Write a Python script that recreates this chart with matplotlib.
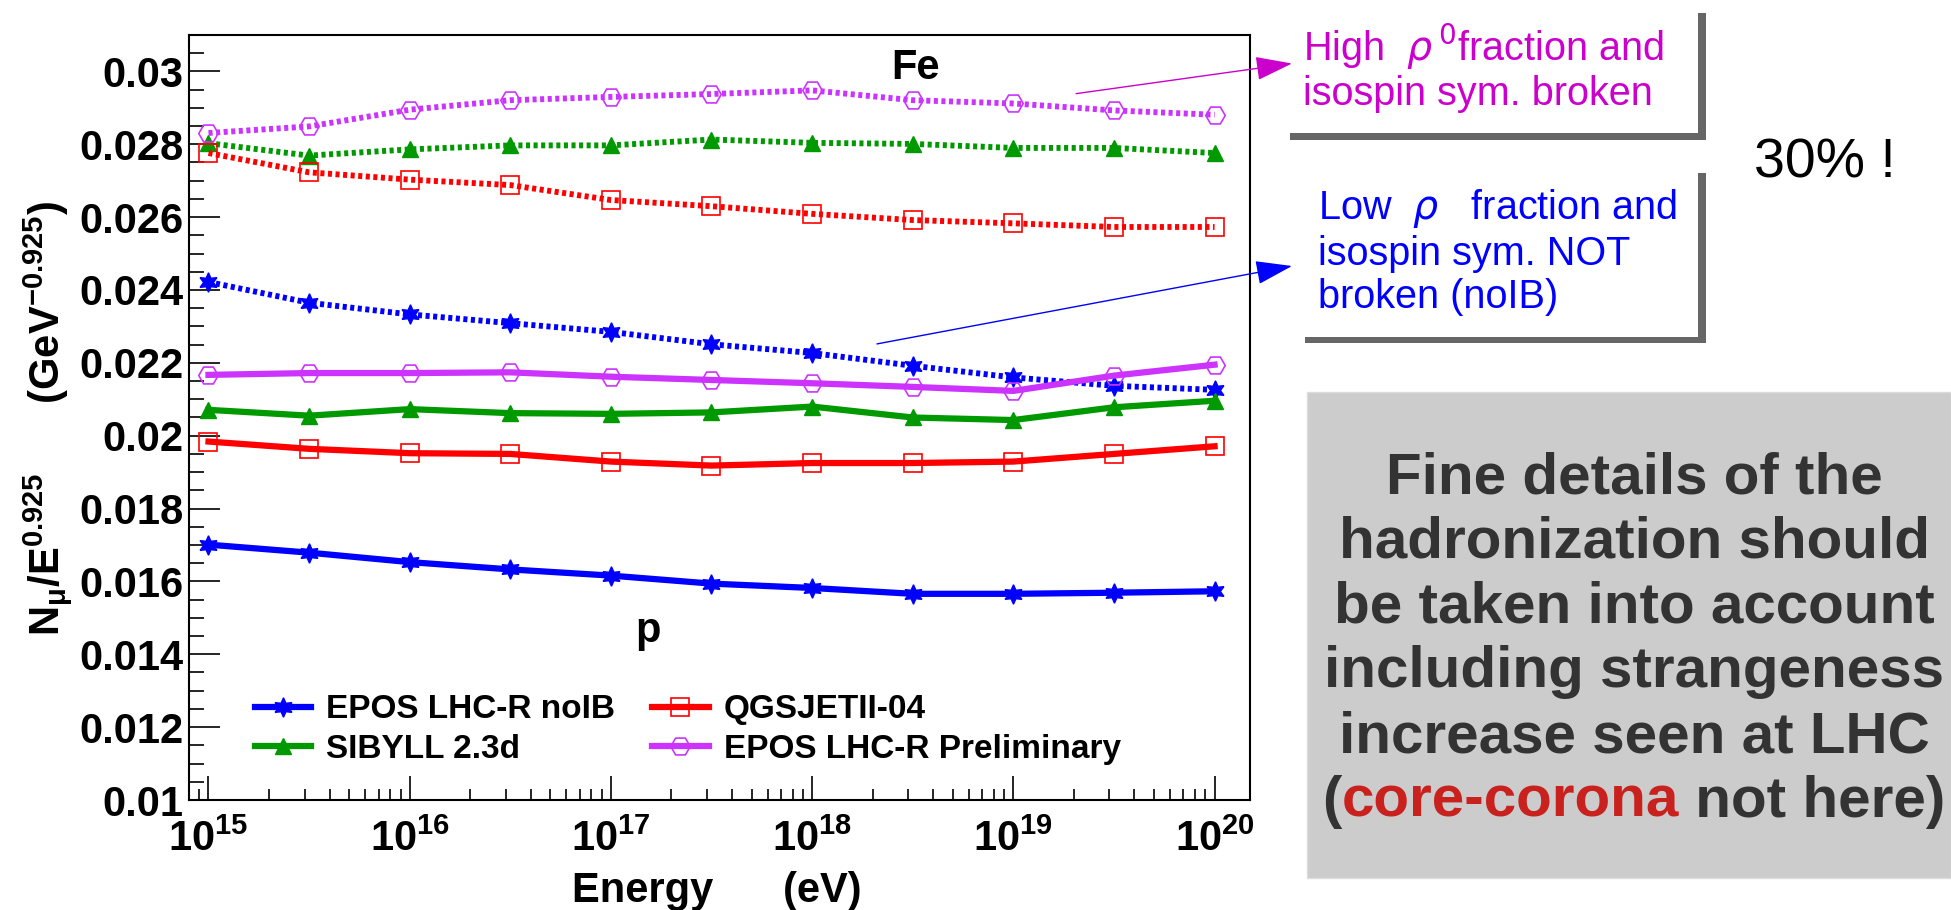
import matplotlib
matplotlib.use('Agg')
import matplotlib.pyplot as plt
from matplotlib.patches import Rectangle
from matplotlib.ticker import LogLocator, MultipleLocator, FuncFormatter, NullFormatter

plt.rcParams['font.family'] = ['Liberation Sans', 'DejaVu Sans']
plt.rcParams['mathtext.fontset'] = 'custom'
plt.rcParams['mathtext.rm'] = 'Liberation Sans:bold'
plt.rcParams['mathtext.it'] = 'Liberation Sans:bold:italic'
plt.rcParams['mathtext.bf'] = 'Liberation Sans:bold'
plt.rcParams['mathtext.default'] = 'rm'

# shower energies (eV), half-decade steps
energy = [1e15, 3.16e15, 1e16, 3.16e16, 1e17, 3.16e17, 1e18, 3.16e18, 1e19, 3.16e19, 1e20]

# proton showers (solid)
p_epos_noib = [0.01701, 0.01679, 0.01653, 0.01633, 0.01616, 0.01594, 0.01582, 0.01566, 0.01566, 0.01569, 0.01573]
p_qgsjet = [0.01984, 0.01964, 0.01952, 0.01950, 0.01929, 0.01918, 0.01925, 0.01925, 0.01929, 0.01950, 0.01971]
p_sibyll = [0.02071, 0.02055, 0.02073, 0.02062, 0.02060, 0.02064, 0.02080, 0.02050, 0.02043, 0.02078, 0.02096]
p_epos = [0.02167, 0.02172, 0.02172, 0.02174, 0.02162, 0.02153, 0.02144, 0.02134, 0.02123, 0.02165, 0.02195]

# iron showers (dotted)
fe_epos_noib = [0.02422, 0.02365, 0.02333, 0.02309, 0.02285, 0.02251, 0.02227, 0.02192, 0.02160, 0.02137, 0.02126]
fe_qgsjet = [0.02776, 0.02723, 0.02703, 0.02688, 0.02647, 0.02630, 0.02609, 0.02592, 0.02583, 0.02573, 0.02573]
fe_sibyll = [0.02803, 0.02769, 0.02786, 0.02797, 0.02797, 0.02813, 0.02804, 0.02801, 0.02790, 0.02790, 0.02776]
fe_epos = [0.02831, 0.02849, 0.02895, 0.02921, 0.02930, 0.02938, 0.02948, 0.02921, 0.02912, 0.02893, 0.02881]

labels = ['EPOS LHC-R noIB', 'SIBYLL 2.3d', 'QGSJETII-04', 'EPOS LHC-R Preliminary']

BLUE = '#0000ff'
GREEN = '#009900'
RED = '#ff0000'
PURPLE = '#cc33ff'

W, H = 1951, 910


def fx(x):
    return x / W


def fy(y):
    return 1 - y / H


fig = plt.figure(figsize=(W / 100, H / 100), dpi=100)
ax = fig.add_axes([fx(189), fy(800), (1250 - 189) / W, (800 - 35) / H])

styles = [
    (p_epos_noib, fe_epos_noib, BLUE, dict(marker=(6, 1, 0), ms=14, mfc=BLUE, mec=BLUE)),
    (p_sibyll, fe_sibyll, GREEN, dict(marker='^', ms=11, mfc=GREEN, mec=GREEN)),
    (p_qgsjet, fe_qgsjet, RED, dict(marker='s', ms=13, mfc='none', mec=RED, mew=1.2)),
    (p_epos, fe_epos, PURPLE, dict(marker='H', ms=14, mfc='none', mec=PURPLE, mew=1.2)),
]

handles = []
for (p_vals, fe_vals, col, mk), lab in zip(styles, labels):
    ax.plot(energy, fe_vals, color=col, lw=4.2, linestyle=(0, (0.7, 0.6)),
            dash_capstyle='butt', **mk)
    h, = ax.plot(energy, p_vals, color=col, lw=4.5, label=lab, **mk)
    handles.append(h)

ax.set_xscale('log')
ax.set_xlim(8e14, 1.5e20)
ax.set_ylim(0.01, 0.031)
ax.xaxis.set_major_locator(LogLocator(base=10, numticks=20))
ax.xaxis.set_minor_locator(LogLocator(base=10, subs=range(2, 10), numticks=100))
ax.xaxis.set_minor_formatter(NullFormatter())
ax.yaxis.set_major_locator(MultipleLocator(0.002))
ax.yaxis.set_minor_locator(MultipleLocator(0.0005))
ax.yaxis.set_major_formatter(FuncFormatter(lambda v, pos: f'{v:g}'))

ax.tick_params(axis='both', which='both', direction='in', top=False, right=False, width=1.2)
ax.tick_params(axis='y', which='major', length=22, pad=4, labelsize=30)
ax.tick_params(axis='y', which='minor', length=11)
ax.tick_params(axis='x', which='major', length=17, pad=14, labelsize=30)
ax.tick_params(axis='x', which='minor', length=8)
for lab in ax.get_xticklabels() + ax.get_yticklabels():
    lab.set_fontweight('bold')
for sp in ax.spines.values():
    sp.set_linewidth(1.5)

ax.text(3.27e18, 0.02979, 'Fe', fontsize=30, fontweight='bold', ha='center', va='baseline')
ax.text(1.53e17, 0.014345, 'p', fontsize=30, fontweight='bold', ha='center', va='baseline')

ax.legend(handles=handles, ncol=2, loc='lower left', bbox_to_anchor=(0.062, 0.046),
          frameon=False, prop={'weight': 'bold', 'size': 24}, handlelength=1.7,
          handletextpad=0.45, columnspacing=1.1, labelspacing=0.25,
          borderpad=0, borderaxespad=0)

fig.text(fx(48), fy(418), r'N$_{\mu}$/E$^{0.925}$      (GeV$^{-0.925}$)', rotation=90,
         fontsize=30, fontweight='bold', ha='center', va='center')
fig.text(fx(717), fy(902), 'Energy      (eV)', fontsize=30, fontweight='bold',
         ha='center', va='baseline')

# arrows from the curves to the comment boxes
arrow = dict(arrowstyle='-|>,head_length=2.3,head_width=0.75', lw=1, shrinkA=0, shrinkB=0,
             mutation_scale=10)
ax.annotate('', xy=(1292, H - 63.5), xycoords='figure pixels', xytext=(2.05e19, 0.02939),
            textcoords='data', arrowprops=dict(color='#cc00cc', **arrow), annotation_clip=False)
ax.annotate('', xy=(1292, H - 266), xycoords='figure pixels', xytext=(2.1e18, 0.02252),
            textcoords='data', arrowprops=dict(color=BLUE, **arrow), annotation_clip=False)

# comment boxes (shadow only)
shadow = '#666666'
for x0, y0, x1, y1 in [(1698, 13, 1706, 140), (1290, 133, 1706, 140),
                       (1698, 173, 1706, 343), (1305, 337, 1706, 343)]:
    fig.add_artist(Rectangle((fx(x0), fy(y1)), (x1 - x0) / W, (y1 - y0) / H,
                             transform=fig.transFigure, facecolor=shadow, edgecolor='none'))

mag = '#cc00cc'
fig.text(fx(1303), fy(61), r'High  $\mathit{\rho}\,^{0}$fraction and', color=mag, fontsize=28.5,
         va='baseline', math_fontfamily='dejavusans')
fig.text(fx(1303), fy(105), 'isospin sym. broken', color=mag, fontsize=28.5, va='baseline')
fig.text(fx(1318), fy(219), r'Low  $\mathit{\rho}$   fraction and', color=BLUE, fontsize=28.5,
         va='baseline', math_fontfamily='dejavusans')
fig.text(fx(1318), fy(265), 'isospin sym. NOT', color=BLUE, fontsize=28.5, va='baseline')
fig.text(fx(1318), fy(308), 'broken (noIB)', color=BLUE, fontsize=28.5, va='baseline')

fig.text(fx(1754), fy(177), '30% !', color='black', fontsize=40, va='baseline')

# grey conclusion box
fig.add_artist(Rectangle((fx(1307), fy(878)), (W - 1307) / W, (878 - 392) / H,
                         transform=fig.transFigure, facecolor='#cccccc', edgecolor='#dcdcdc',
                         lw=1))
dark = '#333333'
box_lines = ['Fine details of the', 'hadronization should', 'be taken into account',
             'including strangeness', 'increase seen at LHC']
base0, step = 493.3, 64.7
for i, line in enumerate(box_lines):
    fig.text(fx(1634), fy(base0 + i * step), line, color=dark, fontsize=42,
             fontweight='bold', ha='center', va='baseline')

pieces = [('(', dark), ('core-corona', '#c9211e'), (' not here)', dark)]
last_y = fy(base0 + 5 * step)
texts = [fig.text(0, last_y, s, color=c, fontsize=42, fontweight='bold', va='baseline')
         for s, c in pieces]
renderer = fig.canvas.get_renderer()
widths = [t.get_window_extent(renderer).width for t in texts]
x = 1634 - sum(widths) / 2
for t, w in zip(texts, widths):
    t.set_x(fx(x))
    x += w

fig.savefig('out.png', dpi=100)
